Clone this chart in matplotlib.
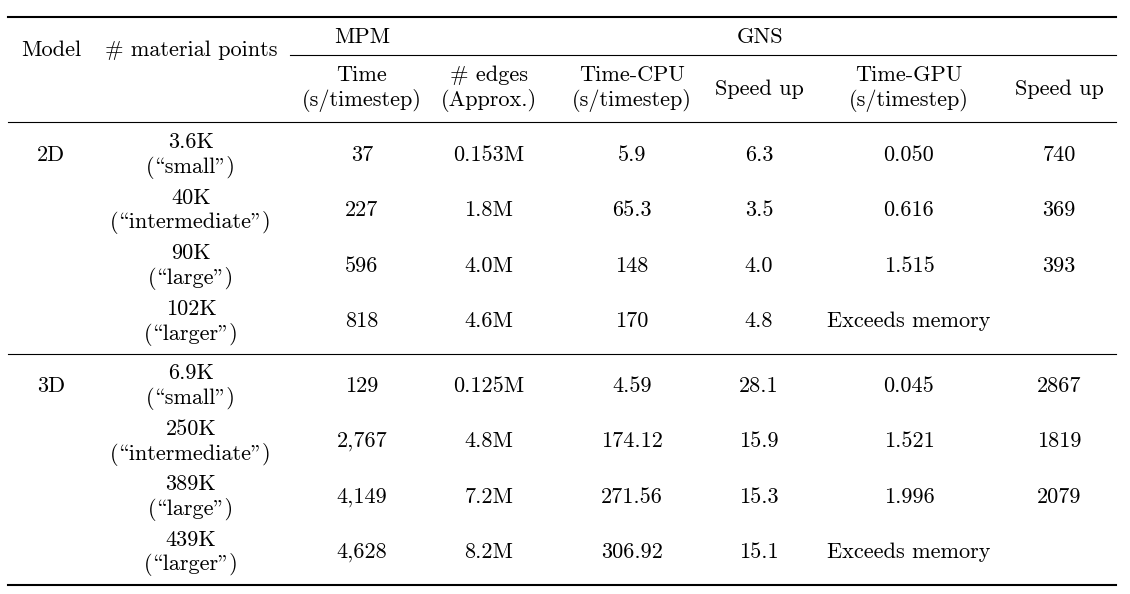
import matplotlib.pyplot as plt

plt.rcParams['font.family'] = ['cmr10', 'DejaVu Serif']
plt.rcParams['axes.unicode_minus'] = False

# table contents
models = ['2D', '3D']
points = ['3.6K', '40K', '90K', '102K', '6.9K', '250K', '389K', '439K']
sizes = ['small', 'intermediate', 'large', 'larger'] * 2
mpm_time = ['37', '227', '596', '818', '129', '2,767', '4,149', '4,628']
edges = ['0.153M', '1.8M', '4.0M', '4.6M', '0.125M', '4.8M', '7.2M', '8.2M']
cpu_time = ['5.9', '65.3', '148', '170', '4.59', '174.12', '271.56', '306.92']
cpu_speed = ['6.3', '3.5', '4.0', '4.8', '28.1', '15.9', '15.3', '15.1']
gpu_time = ['0.050', '0.616', '1.515', None, '0.045', '1.521', '1.996', None]
gpu_speed = ['740', '369', '393', None, '2867', '1819', '2079', None]

# layout (pixels)
col_x = [51, 191, 362, 489, 632, 759, 909, 1059]
fs = 16

fig = plt.figure(figsize=(11.3, 5.94), dpi=100)
ax = fig.add_axes([0, 0, 1, 1])
ax.set_xlim(0, 1130)
ax.set_ylim(594, 0)
ax.axis('off')

def txt(x, y, s):
    ax.text(x, y, s, ha='center', va='center', fontsize=fs)

# rules
ax.plot([8, 1116], [17, 17], color='black', lw=1.5)
ax.plot([290, 1116], [55, 55], color='black', lw=0.8)
ax.plot([8, 1116], [122, 122], color='black', lw=0.8)
ax.plot([8, 1116], [354, 354], color='black', lw=0.8)
ax.plot([8, 1116], [585, 585], color='black', lw=1.5)

# header
txt(col_x[0], 50, 'Model')
txt(col_x[1], 50, '# material points')
txt(col_x[2], 37, 'MPM')
txt(760, 37, 'GNS')
txt(col_x[2], 75, 'Time')
txt(col_x[2], 101, '(s/timestep)')
txt(col_x[3], 75, '# edges')
txt(col_x[3], 101, '(Approx.)')
txt(col_x[4], 75, 'Time-CPU')
txt(col_x[4], 101, '(s/timestep)')
txt(col_x[5], 89, 'Speed up')
txt(col_x[6], 75, 'Time-GPU')
txt(col_x[6], 101, '(s/timestep)')
txt(col_x[7], 89, 'Speed up')

# body
row_y = [155, 210.5, 266, 321.5, 386, 441.5, 497, 552.5]
txt(col_x[0], row_y[0], models[0])
txt(col_x[0], row_y[4], models[1])
for i, y in enumerate(row_y):
    txt(col_x[1], y - 12.5, points[i])
    # in the cmr10 (TeX OT1) layout '\\' is the opening and '"' the closing quote
    txt(col_x[1], y + 12.5, '(\\' + sizes[i] + '")')
    txt(col_x[2], y, mpm_time[i])
    txt(col_x[3], y, edges[i])
    txt(col_x[4], y, cpu_time[i])
    txt(col_x[5], y, cpu_speed[i])
    if gpu_time[i] is None:
        txt(col_x[6], y, 'Exceeds memory')
    else:
        txt(col_x[6], y, gpu_time[i])
        txt(col_x[7], y, gpu_speed[i])

fig.savefig('out.png', dpi=100)
